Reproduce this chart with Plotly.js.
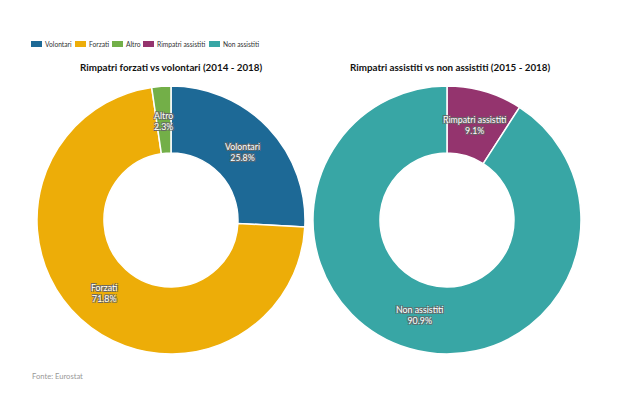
<!DOCTYPE html>
<html>
<head>
<meta charset="utf-8">
<script src="https://cdn.plot.ly/plotly-3.0.1.min.js"></script>
<style>html,body{margin:0;padding:0;background:#fff;}#chart{width:630px;height:400px;}</style>
</head>
<body>
<div id="chart"></div>
<script>
// ---- data ----
const labels1 = ["Volontari", "Forzati", "Altro"];
const values1 = [25.8, 71.8, 2.3];
const colors1 = ["#1D6996", "#EDAD08", "#73AF48"];
const title1 = "Rimpatri forzati vs volontari (2014 - 2018)";

const labels2 = ["Rimpatri assistiti", "Non assistiti"];
const values2 = [9.1, 90.9];
const colors2 = ["#94346E", "#38A6A5"];
const title2 = "Rimpatri assistiti vs non assistiti (2015 - 2018)";

const source = "Fonte: Eurostat";
const FONT = "Lato, 'Source Sans Pro', 'Open Sans', sans-serif";

// ---- layout geometry ----
const W = 630, H = 400;
const dom1 = {x: [0.0587, 0.4841], y: [0.115, 0.785]};
const dom2 = {x: [0.4968, 0.9222], y: [0.115, 0.785]};
const HOLE = 0.5;
const LABEL_R = 0.74; // radial position of labels (fraction of outer radius)

function pieTrace(labels, values, colors, dom) {
  return {
    type: "pie", labels: labels, values: values, hole: HOLE,
    sort: false, direction: "clockwise", rotation: 0,
    textinfo: "none", hoverinfo: "none", showlegend: false,
    marker: {colors: colors, line: {color: "#ffffff", width: 1.5}},
    domain: dom
  };
}

// invisible cartesian frames matching each donut, used to place the labels
function frameTrace(xa, ya) {
  return {type: "scatter", x: [], y: [], xaxis: xa, yaxis: ya, showlegend: false, hoverinfo: "none"};
}

function labelAnnotations(labels, values, xref, yref) {
  const total = values.reduce((a, b) => a + b, 0);
  let cum = 0;
  return labels.map((lab, i) => {
    const mid = (cum + values[i] / 2) / total * 2 * Math.PI;
    cum += values[i];
    return {
      xref: xref, yref: yref,
      x: LABEL_R * Math.sin(mid), y: LABEL_R * Math.cos(mid),
      text: lab + "<br>" + values[i].toFixed(1) + "%",
      showarrow: false, xanchor: "center", yanchor: "middle",
      font: {family: FONT, size: 8.8, color: "#ffffff",
             shadow: "-1px -1px 0 #666, 1px -1px 0 #666, -1px 1px 0 #666, 1px 1px 0 #666"}
    };
  });
}

// custom legend (swatch + text), chained with measured text widths
function legendAnnotations(items) {
  const ctx = document.createElement("canvas").getContext("2d");
  const fs = 6.7;
  ctx.font = fs + "px Lato";
  const anns = [];
  let x = 31;
  const yPaper = (H - 44) / H;
  items.forEach(it => {
    anns.push({xref: "paper", yref: "paper", x: x / W, y: yPaper, xanchor: "left", yanchor: "middle",
      text: " ", width: 11, height: 6, borderpad: 0, borderwidth: 0, bgcolor: it.color,
      showarrow: false, font: {size: 1}});
    x += 13;
    anns.push({xref: "paper", yref: "paper", x: x / W, y: yPaper, xanchor: "left", yanchor: "middle",
      text: it.label, showarrow: false, borderpad: 0,
      font: {family: FONT, size: fs, color: "#333"}});
    x += ctx.measureText(it.label).width + 4;
  });
  return anns;
}

const legendItems = labels1.map((l, i) => ({label: l, color: colors1[i]}))
  .concat(labels2.map((l, i) => ({label: l, color: colors2[i]})));

const data = [
  pieTrace(labels1, values1, colors1, dom1),
  pieTrace(labels2, values2, colors2, dom2),
  frameTrace("x", "y"),
  frameTrace("x2", "y2")
];

const hiddenAxis = (d, anchor) => ({domain: d, range: [-1, 1], visible: false, fixedrange: true, anchor: anchor});

const layout = {
  width: W, height: H,
  margin: {l: 0, r: 0, t: 0, b: 0},
  paper_bgcolor: "#ffffff",
  plot_bgcolor: "rgba(0,0,0,0)",
  font: {family: FONT, color: "#333"},
  showlegend: false,
  xaxis: hiddenAxis(dom1.x, "y"),
  yaxis: hiddenAxis(dom1.y, "x"),
  xaxis2: hiddenAxis(dom2.x, "y2"),
  yaxis2: hiddenAxis(dom2.y, "x2"),
  annotations: [
    {text: "<b>" + title1 + "</b>", xref: "paper", yref: "paper", x: 171.5 / W, y: (H - 67) / H,
     xanchor: "center", yanchor: "middle", showarrow: false,
     font: {family: FONT, size: 9.8, color: "#111"}},
    {text: "<b>" + title2 + "</b>", xref: "paper", yref: "paper", x: 449.5 / W, y: (H - 67) / H,
     xanchor: "center", yanchor: "middle", showarrow: false,
     font: {family: FONT, size: 9.8, color: "#111"}},
    {text: source, xref: "paper", yref: "paper", x: 30 / W, y: (H - 376) / H,
     xanchor: "left", yanchor: "middle", showarrow: false,
     font: {family: FONT, size: 7.6, color: "#999"}}
  ].concat(labelAnnotations(labels1, values1, "x", "y"))
   .concat(labelAnnotations(labels2, values2, "x2", "y2"))
   .concat(legendAnnotations(legendItems))
};

Plotly.newPlot("chart", data, layout, {displayModeBar: false, staticPlot: true});
</script>
</body>
</html>
